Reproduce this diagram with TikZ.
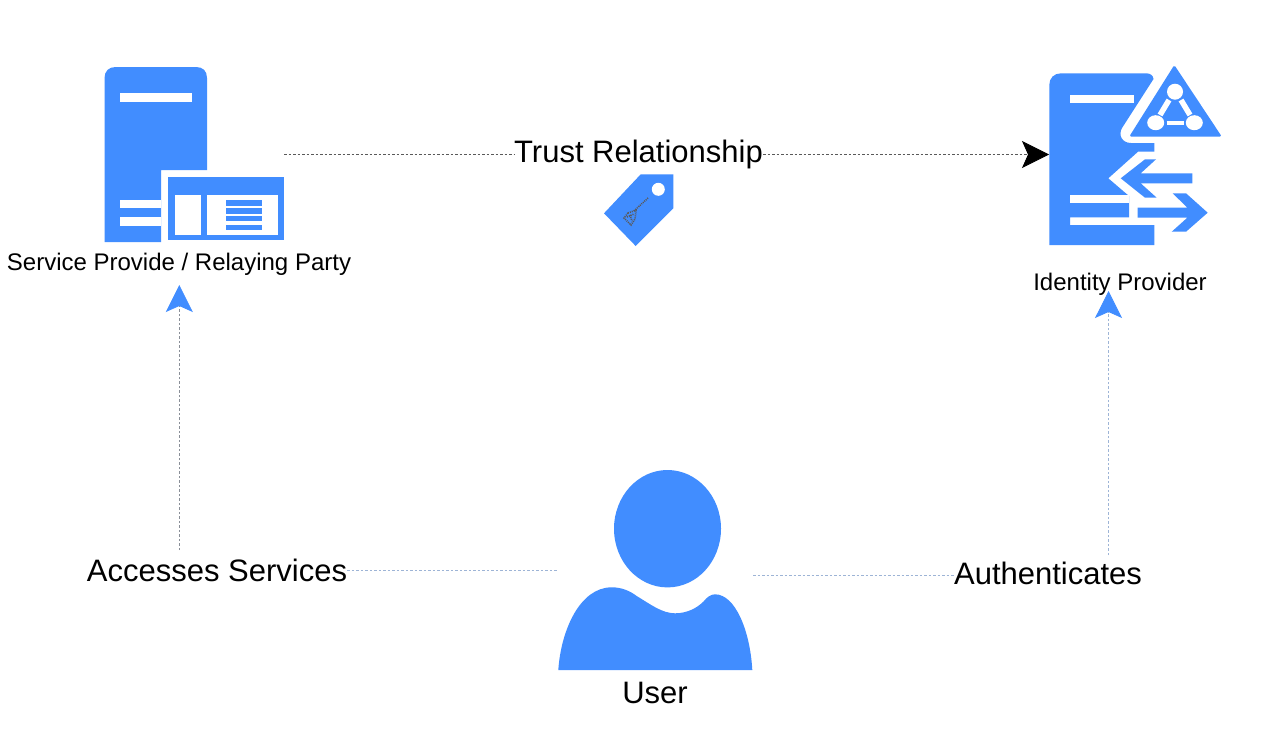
\documentclass[tikz,border=0pt]{standalone}
\usepackage{fontspec}
\setmainfont{Liberation Sans}
\usetikzlibrary{arrows.meta}
\definecolor{iconblue}{HTML}{418DFF}
\definecolor{lineblue}{HTML}{9DB4D6}
\definecolor{linegray}{HTML}{8A8F98}
\tikzset{
  icon/.style={fill=iconblue,draw=none},
  hole/.style={fill=white,draw=none},
  biglabel/.style={font=\fontsize{31}{35}\selectfont,fill=white,inner sep=0pt,text=black},
  smalllabel/.style={font=\fontsize{24}{28}\selectfont,inner sep=0pt,text=black},
  dashline/.style={line width=0.8pt,dash pattern=on 2.5pt off 2pt},
  bluetip/.style={-{Stealth[length=27pt,width=27pt,inset=6pt,color=iconblue]}},
  blacktip/.style={-{Stealth[length=27pt,width=27pt,inset=6pt,color=black]}},
  keydots/.style={color=black!65,line width=1.6pt,dash pattern=on 1pt off 1pt},
}
\begin{document}
\begin{tikzpicture}[x=1pt,y=-1pt]
\useasboundingbox (0,0) rectangle (1281,740);
\fill[white] (0,0) rectangle (1281,740);
% service provider server
\fill[icon] (104.5,78) .. controls (104.5,71) and (109,67) .. (115.5,67) -- (196,67) .. controls (203,67) and (207,71) .. (207,78) -- (207,170) -- (161,170) -- (161,242) -- (104.5,242) -- cycle;
\fill[hole] (120,93) rectangle (192,102);
\fill[hole] (120,200) rectangle (161,208);
\fill[hole] (120,217) rectangle (161,226);
\fill[icon] (168.3,176.7) rectangle (284.3,240);
\fill[hole] (175,195) rectangle (200.7,235);
\fill[hole] (207.3,195) rectangle (277.7,235);
\fill[icon] (226,200) rectangle (261.7,206);
\fill[icon] (226,208) rectangle (261.7,213.5);
\fill[icon] (226,216) rectangle (261.7,221);
\fill[icon] (226,224.5) rectangle (261.7,230);
% identity provider server
\fill[icon] (1049.3,85) .. controls (1049.3,78) and (1054,73.3) .. (1061,73.3) -- (1146,73.3) .. controls (1150,73.3) and (1153,75) .. (1153.5,79)
  -- (1122,128) .. controls (1118,135) and (1122,143) .. (1131,143) -- (1154.3,143) -- (1154.3,151.7) -- (1138,151.7) -- (1108.3,178.3) -- (1129,196) -- (1129,217.3) -- (1070,217.3) -- (1070,225) -- (1154.3,225) -- (1154.3,245) -- (1049.3,245) -- cycle;
\fill[hole] (1070,95) rectangle (1134,102.7);
\fill[hole] (1070,195) rectangle (1129,202.7);
\fill[icon,rounded corners=1.5pt] (1174.3,65) -- (1221.7,136.5) -- (1129.3,136.5) -- cycle;
\fill[hole] (1175,91.7) ellipse[x radius=8,y radius=8];
\fill[hole] (1155.7,122.7) ellipse[x radius=8.5,y radius=7.5];
\fill[hole] (1194.3,122.7) ellipse[x radius=8.5,y radius=7.5];
\draw[white,line width=5.5pt] (1169,100) -- (1160,115);
\draw[white,line width=5.5pt] (1181,100) -- (1190,115);
\draw[white,line width=4pt] (1166.7,122.7) -- (1184,122.7);
\fill[icon] (1145,159.3) -- (1156,159.3) -- (1140.7,173.3) -- (1192.3,173.3) -- (1192.3,183.3) -- (1140.7,183.3) -- (1156.7,197.7) -- (1145,197.7) -- (1120.7,178.3) -- cycle;
\fill[icon] (1172.7,193.3) -- (1186,193.3) -- (1207.7,212.7) -- (1186,231.7) -- (1171.7,231.7) -- (1187.3,217.7) -- (1137.7,217.7) -- (1137.7,207.7) -- (1187.3,207.7) -- cycle;
% tag
\fill[icon] (640.7,174.3) -- (673.3,174.3) -- (673.3,208.3) -- (635.7,246) -- (604,213.3) -- cycle;
\fill[hole] (658.3,189.3) circle[radius=6.5];
\draw[keydots] (648,198) -- (634,211);
\draw[keydots] (628,213) -- (636,210) -- (635,219) -- (631,225) -- (624,218) -- cycle;
\draw[keydots] (630,215) -- (632,221);
\draw[keydots] (627,217) -- (634,214);
% user
\fill[icon] (667.5,528.7) ellipse[x radius=53.5,y radius=58.7];
\fill[icon] (558.3,670) .. controls (561,630) and (580,587.3) .. (611.7,587.3)
  .. controls (622,587.3) and (630,591) .. (636.7,596)
  .. controls (650,604) and (662,613.3) .. (675,613.3)
  .. controls (687,613.3) and (697,608) .. (703.3,601.7)
  .. controls (707,597) and (711,594.3) .. (715,594.3)
  .. controls (735,594.3) and (750,630) .. (752.3,670) -- cycle;
% anchors
\coordinate (spEnd) at (284,154.5);
\coordinate (idpEnd) at (1049,154.5);
\coordinate (spArrow) at (179.3,285);
\coordinate (idpArrow) at (1108.5,291);
\coordinate (userL) at (558,570);
\coordinate (userR) at (753,575.5);
\coordinate (acTop) at (179.3,550);
\coordinate (auTop) at (1108.5,555);
% labels
\node[biglabel] (trust) at (638.5,154) {Trust Relationship};
\node[biglabel] (access) at (217,570) {Accesses Services};
\node[biglabel] (auth) at (1048,573) {Authenticates};
\node[biglabel,fill=none] (user) at (655,693) {User};
\node[smalllabel] (sp) at (179,264.5) {Service Provide / Relaying Party};
\node[smalllabel] (idp) at (1120,284) {Identity Provider};
% connectors
\draw[dashline,color=black!65] (spEnd) -- (trust.west |- spEnd);
\draw[dashline,color=black!65,blacktip] (trust.east |- idpEnd) -- (idpEnd);
\draw[dashline,color=linegray,bluetip] (acTop) -- (spArrow);
\draw[dashline,color=lineblue] (access.east |- userL) -- (userL);
\draw[dashline,color=lineblue] (userR) -- (auth.west |- userR);
\draw[dashline,color=lineblue,bluetip] (auTop) -- (idpArrow);
\end{tikzpicture}
\end{document}
